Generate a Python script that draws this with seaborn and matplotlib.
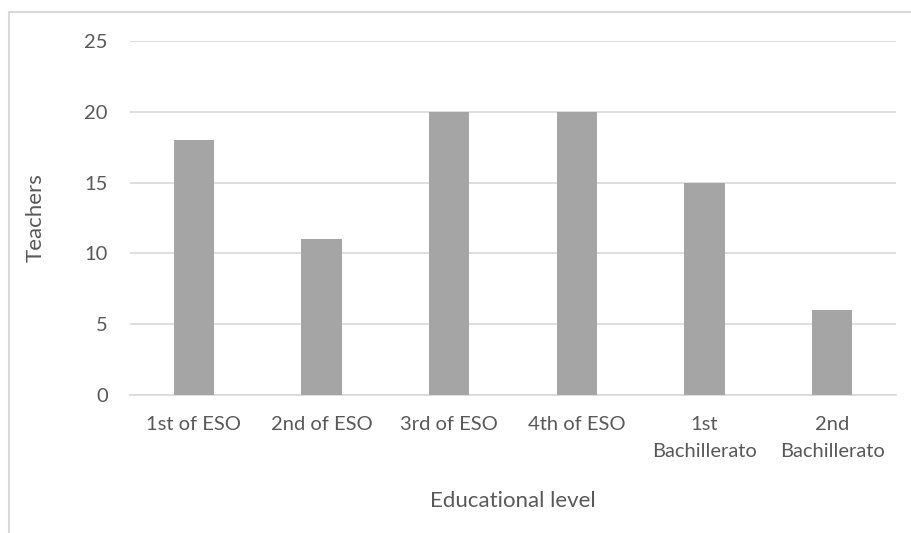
import matplotlib
matplotlib.use("Agg")
import matplotlib.pyplot as plt
import seaborn as sns
import pandas as pd
from matplotlib.lines import Line2D

# data
levels = ["1st of ESO", "2nd of ESO", "3rd of ESO", "4th of ESO",
          "1st\nBachillerato", "2nd\nBachillerato"]
teachers = [18, 11, 20, 20, 15, 6]
y_ticks = [0, 5, 10, 15, 20, 25]

df = pd.DataFrame({"level": levels, "teachers": teachers})

sns.set_theme(style="white")
plt.rcParams["font.family"] = ["Lato", "DejaVu Sans"]

text_col = "#595959"
grid_col = "#D9D9D9"

fig = plt.figure(figsize=(9.12, 5.33), dpi=100)
ax = fig.add_axes([130 / 912, 1 - 395 / 533, (896 - 130) / 912, (395 - 41) / 533])

sns.barplot(data=df, x="level", y="teachers", color="#A5A5A5", saturation=1,
            width=0.315, linewidth=0, ax=ax, zorder=3)

ax.set_ylim(0, 25)
ax.set_yticks(y_ticks)
ax.set_xlim(-0.5, len(levels) - 0.5)
ax.yaxis.grid(True, color=grid_col, linewidth=1.2, zorder=0)
ax.xaxis.grid(False)
for s in ["top", "right", "left"]:
    ax.spines[s].set_visible(False)
ax.spines["bottom"].set_color(grid_col)
ax.spines["bottom"].set_linewidth(1.2)

ax.tick_params(axis="x", length=0, pad=15, labelsize=14.5, labelcolor=text_col)
ax.tick_params(axis="y", length=0, pad=16, labelsize=14.5, labelcolor=text_col)
for lbl in ax.get_xticklabels():
    lbl.set_linespacing(1.75)

ax.set_xlabel("Educational level", fontsize=16, color=text_col, labelpad=22)
ax.set_ylabel("Teachers", fontsize=16, color=text_col, labelpad=28)

# chart border (cropped: only left and top edges visible)
fig.add_artist(Line2D([9 / 912, 1], [1 - 12 / 533, 1 - 12 / 533],
                      transform=fig.transFigure, color=grid_col, linewidth=1.5))
fig.add_artist(Line2D([9 / 912, 9 / 912], [0, 1 - 12 / 533],
                      transform=fig.transFigure, color=grid_col, linewidth=1.5))

fig.savefig("out.png", dpi=100)
